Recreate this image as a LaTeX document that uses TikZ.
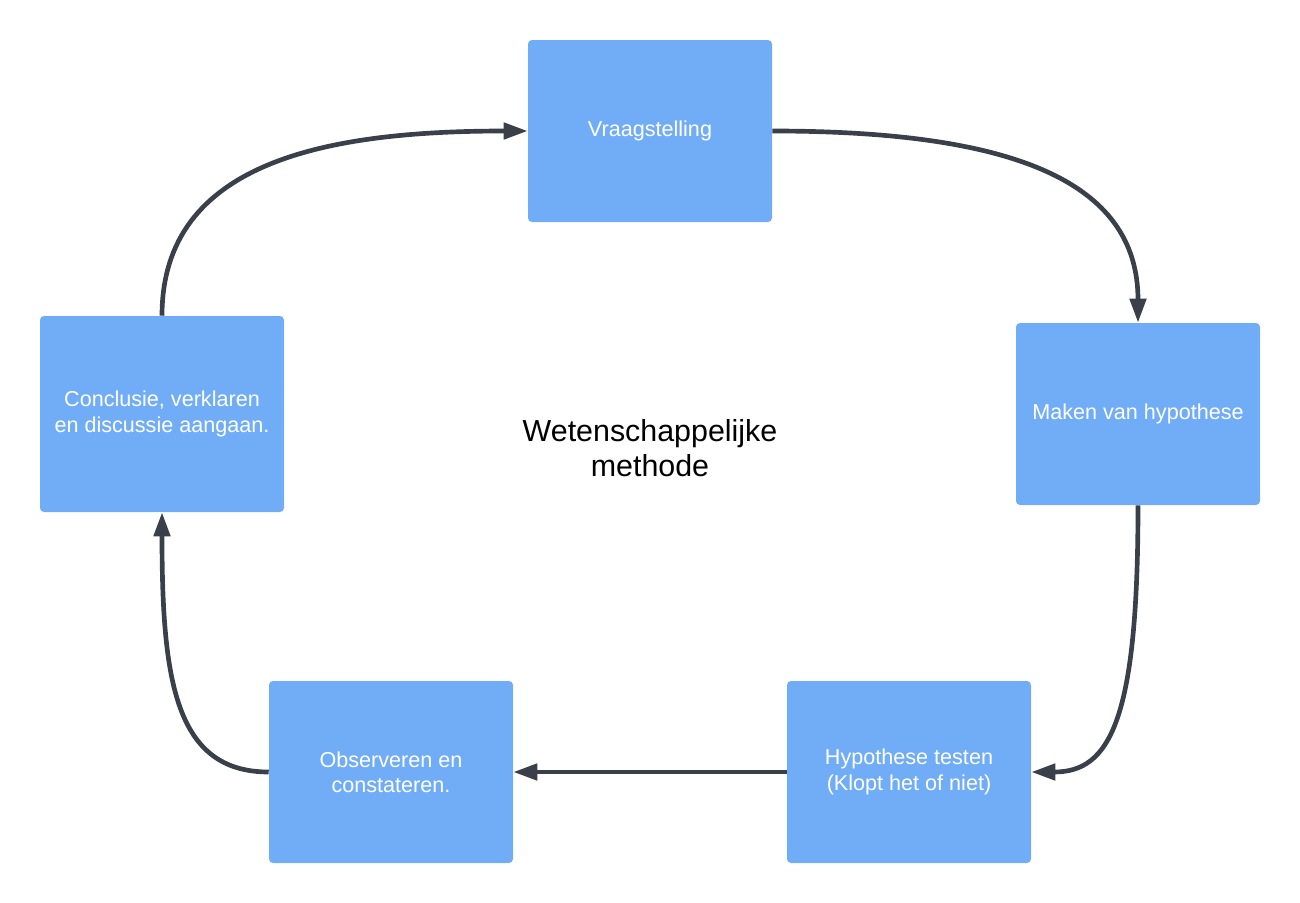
\documentclass[tikz,border=0pt]{standalone}
\usepackage{fontspec}
\setmainfont{Liberation Sans}
\usetikzlibrary{arrows.meta}
\definecolor{boxblue}{RGB}{113,173,247}
\definecolor{linegray}{RGB}{58,64,74}
\begin{document}
\begin{tikzpicture}[x=0.75pt,y=-0.75pt,
  stepbox/.style={fill=boxblue,draw=none,rounded corners=3pt,minimum width=183pt,minimum height=136.5pt,
    inner sep=0pt,align=center,text=white,font=\fontsize{16.2}{19}\selectfont},
  conn/.style={draw=linegray,line width=3.5pt,-{Triangle[length=18pt,width=12pt]}}]
\useasboundingbox (0,0) rectangle (1300,903);
\node[stepbox] (vraag) at (650,131) {Vraagstelling};
\node[stepbox] (maken) at (1138,414) {Maken van hypothese};
\node[stepbox] (test) at (909,772) {Hypothese testen\\(Klopt het of niet)};
\node[stepbox] (obs) at (391,772) {Observeren en\\constateren.};
\node[stepbox,minimum height=147pt] (concl) at (162,414) {Conclusie, verklaren\\en discussie aangaan.};
\node[align=center,font=\fontsize{22.8}{26.5}\selectfont] (title) at (650,448) {Wetenschappelijke\\methode};
\draw[conn] (vraag.east) .. controls (1010,131) and (1138,180) .. (maken.north);
\draw[conn] (maken.south) .. controls (1138,720) and (1110,772) .. (test.east);
\draw[conn] (test.west) -- (obs.east);
\draw[conn] (obs.west) .. controls (175,772) and (162,680) .. (concl.south);
\draw[conn] (concl.north) .. controls (162,160) and (330,131) .. (vraag.west);
\end{tikzpicture}
\end{document}
